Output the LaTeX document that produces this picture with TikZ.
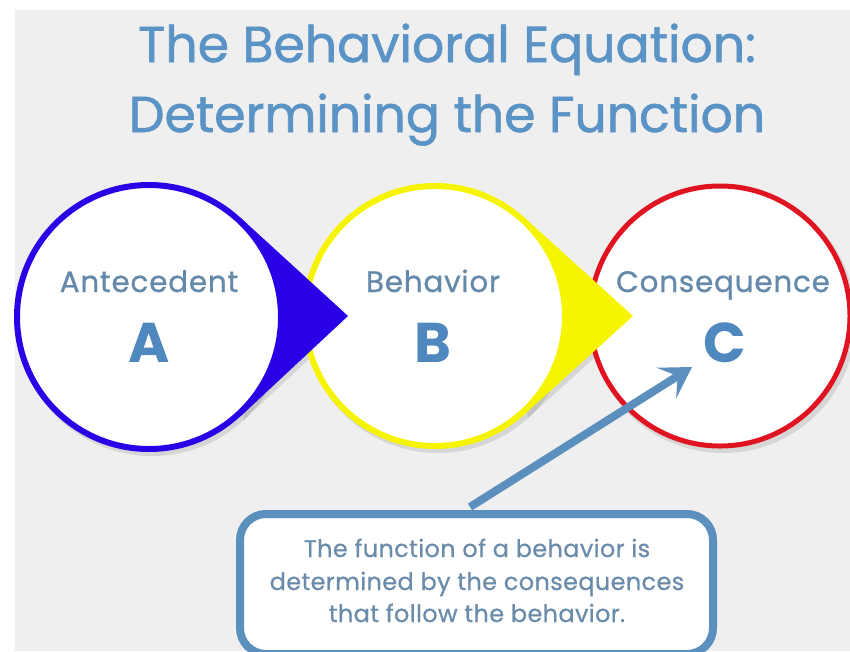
\documentclass[tikz,border=0pt]{standalone}
\usepackage{fontspec}
\setmainfont{Poppins}
\newfontfamily\titlefont{Poppins}[FakeBold=1.2]
\newfontfamily\labelfont{Poppins}[FakeBold=0.8,LetterSpace=2.5]
\newfontfamily\notefont{Poppins}[FakeBold=0.6,LetterSpace=1.5]
\usetikzlibrary{arrows.meta,calc}
\definecolor{bg}{HTML}{EFEFEF}
\definecolor{titleblue}{HTML}{5A93C6}
\definecolor{labelblue}{HTML}{6489AB}
\definecolor{letterblue}{HTML}{4F88BF}
\definecolor{aBlue}{HTML}{2A00E6}
\definecolor{bYellow}{HTML}{F7F400}
\definecolor{cRed}{HTML}{DF1420}
\definecolor{boxblue}{HTML}{5A8FBE}
\definecolor{boxtext}{HTML}{6A8BAA}
\tikzset{
  ring/.style={circle, line width=6pt, fill=white, inner sep=0pt, minimum size=#1},
  shade/.style={fill=black!60, opacity=0.18},
  titletext/.style={text=titleblue, anchor=base, inner sep=0pt, font=\titlefont\fontsize{50.5}{60}\selectfont},
  labeltext/.style={text=labelblue, anchor=base, inner sep=0pt, font=\labelfont\fontsize{29.5}{32}\selectfont},
  lettertext/.style={text=letterblue, anchor=base, inner sep=0pt, font=\bfseries\fontsize{56}{60}\selectfont},
  notetext/.style={text=boxtext, anchor=base, inner sep=0pt, font=\notefont\fontsize{24}{32}\selectfont},
}
\begin{document}
\begin{tikzpicture}[x=1pt,y=-1pt]
\useasboundingbox (0,0) rectangle (850,651);
\fill[white] (0,0) rectangle (850,651);
\fill[bg] (15,10) rectangle (850,651);

% title
\node[titletext] (t1) at (447,62) {The Behavioral Equation:};
\node[titletext] (t2) at (447,132) {Determining the Function};

% centres and tips
\coordinate (Ac) at (149,317);
\coordinate (Atip) at (348,316);
\coordinate (Bc) at (435,316);
\coordinate (Btip) at (633,316);
\coordinate (Cc) at (720,316);

% shadows
\fill[shade] ($(Cc)+(3,4)$) circle[radius=133pt];
\fill[shade] ($(Bc)+(3,4)$) circle[radius=133pt];
\fill[shade] ($(Bc)+(3,4)+(-47.8:133)$) -- ($(Btip)+(3,4)$) -- ($(Bc)+(3,4)+(47.8:133)$) -- cycle;
\fill[shade] ($(Ac)+(3,4)$) circle[radius=135pt];
\fill[shade] ($(Ac)+(3,4)+(-47.3:135)$) -- ($(Atip)+(3,4)$) -- ($(Ac)+(3,4)+(47.3:135)$) -- cycle;

% C
\node[ring=260pt, draw=cRed, line width=5pt] (C) at (Cc) {};
% B with pointer
\fill[bYellow] (Bc) -- ($(Bc)+(-47.8:133)$) -- (Btip) -- ($(Bc)+(47.8:133)$) -- cycle;
\node[ring=260pt, draw=bYellow] (B) at (Bc) {};
% A with pointer
\fill[aBlue] (Ac) -- ($(Ac)+(-47.3:135)$) -- (Atip) -- ($(Ac)+(47.3:135)$) -- cycle;
\node[ring=264pt, draw=aBlue] (A) at (Ac) {};

% labels
\node[labeltext] (la) at (149,292) {Antecedent};
\node[lettertext] (xa) at (149,362) {A};
\node[labeltext] (lb) at (433,292) {Behavior};
\node[lettertext] (xb) at (433,362) {B};
\node[labeltext] (lc) at (723,292) {Consequence};
\node[lettertext] (xc) at (725,362) {C};

% note box
\node[draw=boxblue, line width=8pt, fill=white, rounded corners=26pt,
      minimum width=473pt, minimum height=140pt, anchor=north west, inner sep=0pt] (box) at (236,510) {};
\node[notetext] (n1) at (477,557) {The function of a behavior is};
\node[notetext] (n2) at (477,590) {determined by the consequences};
\node[notetext] (n3) at (477,622) {that follow the behavior.};

% arrow
\coordinate (foot) at (470,507);
\coordinate (ctarget) at (692,367);
\draw[boxblue, line width=8pt, -{Stealth[length=30pt,width=36pt,inset=13pt]}] (foot) -- (ctarget);
\end{tikzpicture}
\end{document}
